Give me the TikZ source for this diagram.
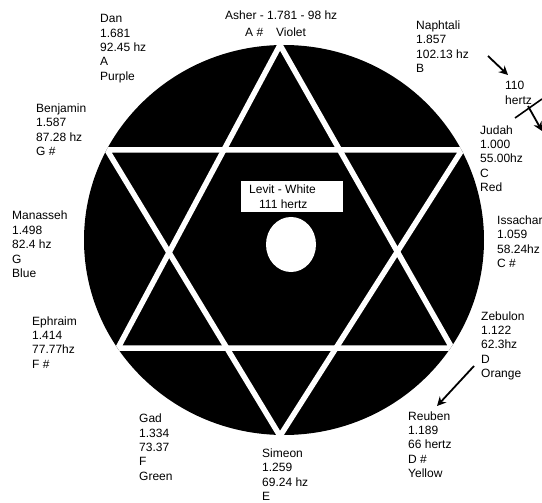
\documentclass[tikz,border=0pt]{standalone}
\usepackage{fontspec}
\setmainfont{Liberation Sans}
\usetikzlibrary{arrows.meta}
\begin{document}
\begin{tikzpicture}[x=1pt,y=-1pt,
  lbl/.style={anchor=base west, inner sep=0pt, align=left, font=\fontsize{12}{14.4}\selectfont},
  starline/.style={draw=white, line width=5.5pt},
  arr/.style={draw=black, line width=1.8pt, -{Stealth[length=9pt,width=9pt]}}]
\useasboundingbox[fill=white] (0,0) rectangle (542,503);
% disk
\fill[black] (284,240) ellipse [x radius=200pt, y radius=195pt];
\begin{scope}
  \clip (284,240) ellipse [x radius=200pt, y radius=195pt];
  \draw[starline] (280,45) -- (118,348) -- (452,348) -- cycle;
  \draw[starline] (280,436) -- (107,150) -- (462,150) -- cycle;
\end{scope}
% centre
\node[fill=white, draw=none, minimum width=102pt, minimum height=31pt, inner sep=0pt] (levitbox) at (292,196.5) {};
\node[lbl] (levit) at (249,193.3) {Levit - White};
\node[lbl] (levithz) at (259,208.3) {111 hertz};
\fill[white] (291,244.5) ellipse [x radius=25pt, y radius=27.5pt];
% labels (anchored at the baseline of the last line)
\node[lbl] (asher) at (225,20) {Asher - 1.781 - 98 hz};
\node[lbl] (asherA) at (245,37) {A \#};
\node[lbl] (asherV) at (276,37) {Violet};
\node[lbl] (dan) at (100,80.3) {Dan\\1.681\\92.45 hz\\A\\Purple};
\node[lbl] (benjamin) at (36,155.7) {Benjamin\\1.587\\87.28 hz\\G \#};
\node[lbl] (manasseh) at (12,277.6) {Manasseh\\1.498\\82.4 hz\\G\\Blue};
\node[lbl] (ephraim) at (32,368.2) {Ephraim\\1.414\\77.77hz\\F \#};
\node[lbl] (gad) at (139,480.3) {Gad\\1.334\\73.37\\F\\Green};
\node[lbl] (simeon) at (262,500.5) {Simeon\\1.259\\69.24 hz\\E};
\node[lbl] (reuben) at (408,477.6) {Reuben\\1.189\\66 hertz\\D \#\\Yellow};
\node[lbl] (zebulon) at (481,377.6) {Zebulon\\1.122\\62.3hz\\D\\Orange};
\node[lbl] (issachar) at (497,267.5) {Issachar\\1.059\\58.24hz\\C \#};
\node[lbl] (judah) at (480,191.6) {Judah\\1.000\\55.00hz\\C\\Red};
\node[lbl] (naphtali) at (416,72.5) {Naphtali\\1.857\\102.13 hz\\B};
\node[lbl, font=\fontsize{12}{15}\selectfont] (hz110) at (505,105) {110\\hertz};
% arrows
\coordinate (a1s) at (488,56);
\coordinate (a1e) at (508,75);
\draw[arr] (a1s) -- (a1e);
\coordinate (t1) at (515,118);
\coordinate (t2) at (542,99);
\draw[black, line width=1.6pt] (t1) -- (t2);
\coordinate (a2s) at (528,106);
\coordinate (a2e) at (542,131);
\draw[arr] (a2s) -- (a2e);
\coordinate (a3s) at (474,366);
\coordinate (a3e) at (437,406);
\draw[arr] (a3s) -- (a3e);
\end{tikzpicture}
\end{document}
